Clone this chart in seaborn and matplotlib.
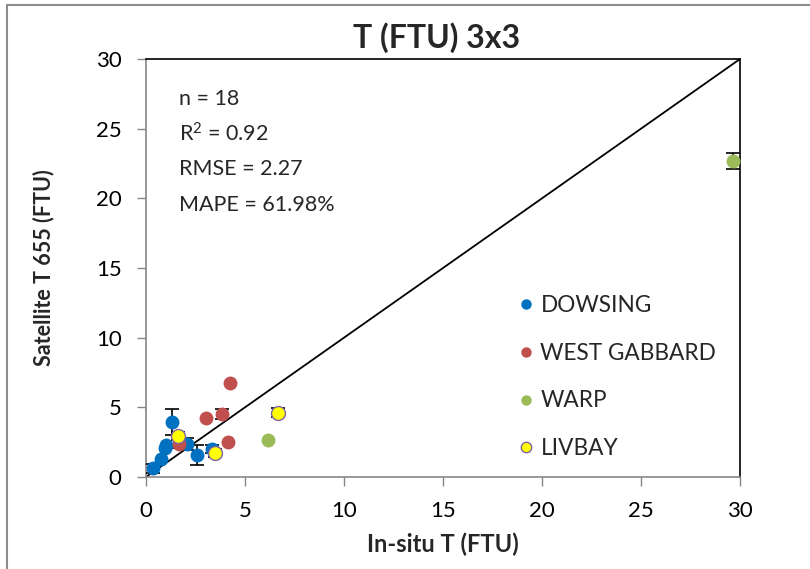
import matplotlib
matplotlib.use("Agg")
import matplotlib.pyplot as plt
import seaborn as sns
import pandas as pd
from matplotlib.lines import Line2D

# ---- data ----
dowsing_x = [0.37, 0.74, 0.96, 1.00, 1.33, 2.05, 2.56, 3.32]
dowsing_y = [0.62, 1.27, 2.10, 2.30, 3.93, 2.37, 1.58, 1.99]
dowsing_err = [0.30, 0.0, 0.0, 0.0, 0.95, 0.43, 0.70, 0.30]

wg_x = [1.67, 3.01, 3.82, 4.12, 4.24]
wg_y = [2.37, 4.26, 4.50, 2.53, 6.77]
wg_err = [0.30, 0.0, 0.36, 0.0, 0.0]

warp_x = [6.14, 29.66]
warp_y = [2.63, 22.68]
warp_err = [0.0, 0.60]

liv_x = [1.63, 3.48, 6.68]
liv_y = [2.94, 1.70, 4.62]
liv_err = [0.30, 0.30, 0.30]

sites = ["DOWSING", "WEST GABBARD", "WARP", "LIVBAY"]
colors = {"DOWSING": "#0070C0", "WEST GABBARD": "#C0504D",
          "WARP": "#9BBB59", "LIVBAY": "#FFFF00"}
edges = {"DOWSING": "#0070C0", "WEST GABBARD": "#C0504D",
         "WARP": "#9BBB59", "LIVBAY": "#8064A2"}

stats = ["n = 18", "R$^{2}$ = 0.92", "RMSE = 2.27", "MAPE = 61.98%"]
ticks = [0, 5, 10, 15, 20, 25, 30]

frames = []
for name, xs, ys, es in [("DOWSING", dowsing_x, dowsing_y, dowsing_err),
                         ("WEST GABBARD", wg_x, wg_y, wg_err),
                         ("WARP", warp_x, warp_y, warp_err),
                         ("LIVBAY", liv_x, liv_y, liv_err)]:
    frames.append(pd.DataFrame({"insitu": xs, "sat": ys, "err": es, "site": name}))
df = pd.concat(frames, ignore_index=True)

# ---- style ----
sns.set_theme(style="white")
plt.rcParams["font.family"] = ["Lato", "DejaVu Sans"]
plt.rcParams["mathtext.default"] = "regular"

fig = plt.figure(figsize=(8.10, 5.69), dpi=100)
ax = fig.add_axes([146/810, 1-477/569, (740-146)/810, (477-59)/569])

# 1:1 line
ax.plot([0, 30], [0, 30], color="black", lw=1.3, zorder=2)

# error bars
for name in sites:
    sub = df[(df.site == name) & (df.err > 0)]
    ax.errorbar(sub.insitu, sub.sat, yerr=sub.err, fmt="none", ecolor="black",
                elinewidth=1.2, capsize=5, capthick=1.2, zorder=3)

# points
for name in sites:
    sub = df[df.site == name]
    sns.scatterplot(data=sub, x="insitu", y="sat", ax=ax, color=colors[name],
                    edgecolor=edges[name], linewidth=1.0 if name == "LIVBAY" else 0,
                    s=100, zorder=4, legend=False)

ax.set_xlim(0, 30)
ax.set_ylim(0, 30)
ax.set_xticks(ticks)
ax.set_yticks(ticks)
ax.tick_params(axis="both", which="major", direction="out", length=6.5, width=1,
               color="#868686", labelsize=16, pad=11, labelcolor="black",
               bottom=True, left=True)
for s in ["left", "bottom"]:
    ax.spines[s].set_color("#868686")
    ax.spines[s].set_linewidth(1.2)
for s in ["top", "right"]:
    ax.spines[s].set_color("black")
    ax.spines[s].set_linewidth(1.2)

ax.set_xlabel("In-situ T (FTU)", fontsize=17, fontweight="bold", labelpad=8)
ax.set_ylabel("Satellite T 655 (FTU)", fontsize=15.5, fontweight="bold", labelpad=30)
ax.set_title("T (FTU) 3x3", fontsize=23, fontweight="bold", pad=8, x=0.49)

# stats text
ys_txt = [0.904, 0.821, 0.737, 0.651]
for t, yy in zip(stats, ys_txt):
    ax.text(0.0556, yy, t, transform=ax.transAxes, fontsize=15.5, va="center", ha="left")

# legend
handles = [Line2D([0], [0], marker="o", linestyle="none", markersize=7.5,
                  markerfacecolor=colors[n], markeredgecolor=edges[n],
                  markeredgewidth=1.0 if n == "LIVBAY" else 0) for n in sites]
leg = ax.legend(handles, sites, loc="upper left", bbox_to_anchor=(0.605, 0.457),
                frameon=False, fontsize=16.3, labelspacing=1.18, handletextpad=0.15,
                handlelength=1.0, borderaxespad=0)

# chart-area border (partial, as in reference)
fig.add_artist(Line2D([7/810, 1.0], [1-5/569, 1-5/569], color="#8c8c8c", lw=1.5,
                      transform=fig.transFigure))
fig.add_artist(Line2D([7/810, 7/810], [0, 1-5/569], color="#8c8c8c", lw=1.5,
                      transform=fig.transFigure))

fig.savefig("out.png", dpi=100)
